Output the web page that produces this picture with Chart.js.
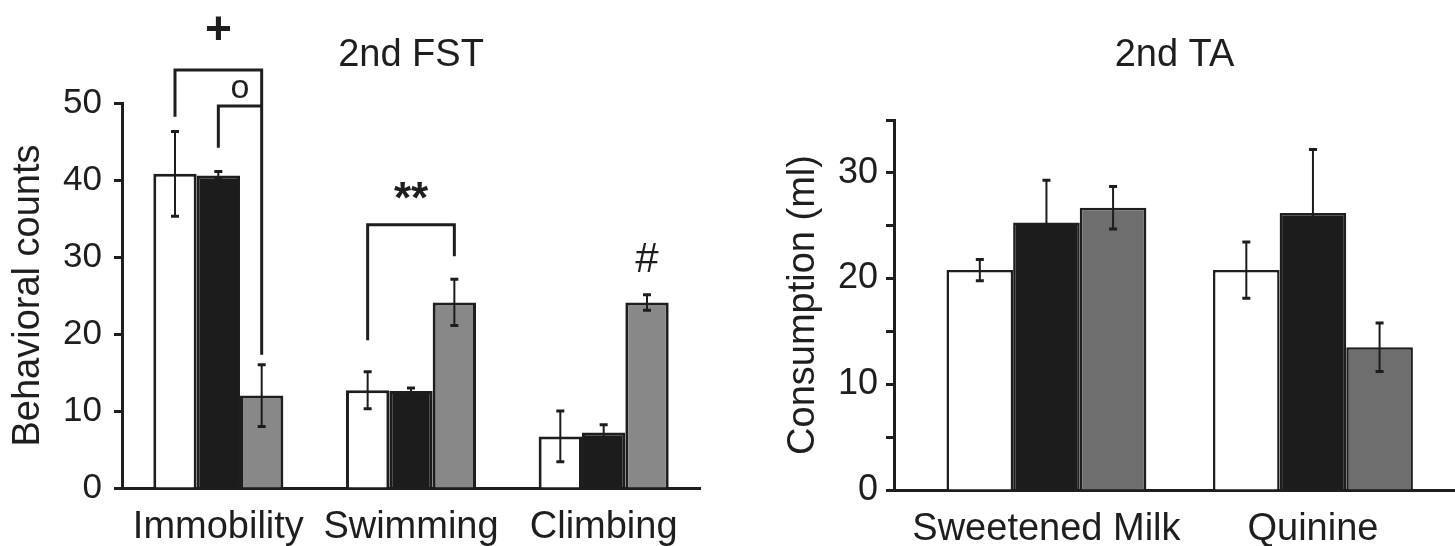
<!DOCTYPE html>
<html><head><meta charset="utf-8">
<script src="https://cdn.jsdelivr.net/npm/chart.js@4"></script>
<style>
html,body{margin:0;padding:0;background:#fff;overflow:hidden;}
#wrap{position:relative;width:1455px;height:546px;background:#fff;}
#c1{position:absolute;left:0;top:0;}
#c2{position:absolute;left:740px;top:0;}
</style></head><body>
<div id="wrap"><canvas id="c1" width="740" height="546"></canvas><canvas id="c2" width="715" height="546"></canvas></div>
<script>
// ---------- data: 2nd FST ----------
const fstCategories = ['Immobility', 'Swimming', 'Climbing'];
const fstWhite    = [40.8, 12.7, 6.7];
const fstWhiteErr = [5.5, 2.4, 3.3];
const fstBlack    = [40.6, 12.6, 7.2];
const fstBlackErr = [0.5, 0.4, 1.0];
const fstGray     = [12.0, 24.1, 24.1];
const fstGrayErr  = [4.0, 3.0, 1.0];
const fstTicks    = [0, 10, 20, 30, 40, 50];
// significance brackets: category, left/right dataset, y of top and of both ends
const fstBrackets = [
  {cat: 0, left: 0, right: 2, top: 54.3, leftEnd: 48.2, rightEnd: 17.3},
  {cat: 0, left: 1, right: 2, top: 49.6, leftEnd: 44.2, rightEnd: 49.6},
  {cat: 1, left: 0, right: 2, top: 34.2, leftEnd: 19.2, rightEnd: 30.1}
];
const fstMarks = [
  {text: '+',  cat: 0, between: [1, 1], y: 59.7},
  {text: 'o',  cat: 0, between: [1, 2], y: 51.8},
  {text: '**', cat: 1, between: [0, 2], y: 38.6},
  {text: '#',  cat: 2, between: [2, 2], y: 29.9}
];

// ---------- data: 2nd TA ----------
const taCategories = ['Sweetened Milk', 'Quinine'];
const taWhite    = [20.8, 20.8];
const taWhiteErr = [1.0, 2.65];
const taBlack    = [25.3, 26.2];
const taBlackErr = [4.0, 6.0];
const taGray     = [26.7, 13.5];
const taGrayErr  = [2.0, 2.3];
const taTicks    = [0, 5, 10, 15, 20, 25, 30, 35];

// ---------- styling ----------
const FONT = "'Liberation Sans', Arial, Helvetica, sans-serif";
const INK = '#1e1e1e';
Chart.defaults.font.family = FONT;
Chart.defaults.color = INK;

const markFonts = {'+': 'bold 46px ' + FONT, 'o': '34px ' + FONT, '**': 'bold 44px ' + FONT, '#': '42px ' + FONT};

function centerText(ctx, text, x, y, font) {
  ctx.font = font;
  ctx.textAlign = 'center';
  ctx.textBaseline = 'alphabetic';
  const m = ctx.measureText(text);
  ctx.fillText(text, x, y + (m.actualBoundingBoxAscent - m.actualBoundingBoxDescent) / 2);
}
function valOf(d) { return (d !== null && typeof d === 'object') ? d.y : d; }

function drawErrors(chart, errs) {
  const ctx = chart.ctx, ys = chart.scales.y;
  ctx.save();
  ctx.strokeStyle = '#1c1c1c';
  errs.forEach((arr, ds) => {
    const meta = chart.getDatasetMeta(ds);
    meta.data.forEach((bar, i) => {
      const v = valOf(chart.data.datasets[ds].data[i]);
      const t = ys.getPixelForValue(v + arr[i]);
      const b = ys.getPixelForValue(v - arr[i]);
      ctx.lineWidth = 2;
      ctx.beginPath(); ctx.moveTo(bar.x, t); ctx.lineTo(bar.x, b); ctx.stroke();
      ctx.lineWidth = 3;
      ctx.beginPath();
      ctx.moveTo(bar.x - 4, t); ctx.lineTo(bar.x + 4, t);
      ctx.moveTo(bar.x - 4, b); ctx.lineTo(bar.x + 4, b);
      ctx.stroke();
    });
  });
  ctx.restore();
}

function panelTitle(text) {
  return {
    id: 'panelTitle',
    afterDraw(chart) {
      const ca = chart.chartArea, ctx = chart.ctx;
      ctx.save(); ctx.fillStyle = INK;
      centerText(ctx, text, (ca.left + ca.right) / 2, 52, '38px ' + FONT);
      ctx.restore();
    }
  };
}

const fstOverlay = {
  id: 'fstOverlay',
  afterDatasetsDraw(chart) {
    drawErrors(chart, [fstWhiteErr, fstBlackErr, fstGrayErr]);
    const ctx = chart.ctx, ys = chart.scales.y;
    const bx = (ds, i) => chart.getDatasetMeta(ds).data[i].x;
    ctx.save();
    ctx.strokeStyle = INK; ctx.fillStyle = INK; ctx.lineWidth = 3; ctx.lineCap = 'butt';
    fstBrackets.forEach(br => {
      const xl = bx(br.left, br.cat), xr = bx(br.right, br.cat);
      ctx.beginPath();
      ctx.moveTo(xl, ys.getPixelForValue(br.leftEnd));
      ctx.lineTo(xl, ys.getPixelForValue(br.top));
      ctx.lineTo(xr, ys.getPixelForValue(br.top));
      ctx.lineTo(xr, ys.getPixelForValue(br.rightEnd));
      ctx.stroke();
    });
    fstMarks.forEach(mk => {
      const x = (bx(mk.between[0], mk.cat) + bx(mk.between[1], mk.cat)) / 2;
      centerText(ctx, mk.text, x, ys.getPixelForValue(mk.y), markFonts[mk.text]);
    });
    ctx.restore();
  }
};

const taOverlay = {
  id: 'taOverlay',
  afterDatasetsDraw(chart) { drawErrors(chart, [taWhiteErr, taBlackErr, taGrayErr]); }
};

function barSet(data, fill) {
  return {data, backgroundColor: fill, borderColor: INK, borderWidth: 3,
          barPercentage: 1.0, categoryPercentage: 0.675};
}

// ---------- left chart ----------
new Chart(document.getElementById('c1'), {
  type: 'bar',
  data: {
    labels: fstCategories,
    datasets: [barSet(fstWhite, '#ffffff'), barSet(fstBlack, '#1b1c1b'), barSet(fstGray, '#888888')]
  },
  options: {
    responsive: false, animation: false, events: [],
    layout: {padding: {top: 103, right: 40, left: 0, bottom: 0}},
    plugins: {legend: {display: false}, tooltip: {enabled: false}, title: {display: false}},
    scales: {
      x: {
        grid: {display: false, drawTicks: false},
        border: {display: true, color: INK, width: 3},
        ticks: {font: {size: 38}, color: INK, padding: 17, maxRotation: 0, autoSkip: false},
        afterFit: s => { s.height = 58; }
      },
      y: {
        min: 0, max: 50,
        afterBuildTicks: s => { s.ticks = fstTicks.map(v => ({value: v})); },
        ticks: {font: {size: 35}, color: INK, padding: 12},
        grid: {display: true, drawOnChartArea: false, drawTicks: true, tickLength: 8, tickWidth: 3, tickColor: INK, color: INK},
        border: {display: true, color: INK, width: 3},
        title: {display: true, text: 'Behavioral counts', font: {size: 38}, color: INK, padding: {top: 6, bottom: 0}},
        afterFit: s => { s.width = 122; }
      }
    }
  },
  plugins: [fstOverlay, panelTitle('2nd FST')]
});

// ---------- right chart ----------
function taSet(vals, fill) {
  const s = barSet(vals.map((v, i) => ({x: i, y: v})), fill);
  s.borderWidth = 2.5; s.categoryPercentage = 0.75;
  return s;
}
new Chart(document.getElementById('c2'), {
  type: 'bar',
  data: {
    datasets: [taSet(taWhite, '#ffffff'), taSet(taBlack, '#1b1c1b'), taSet(taGray, '#6d6e6d')]
  },
  options: {
    responsive: false, animation: false, events: [],
    layout: {padding: {top: 120, right: 0, left: 0, bottom: 0}},
    plugins: {legend: {display: false}, tooltip: {enabled: false}, title: {display: false}},
    scales: {
      x: {
        type: 'linear', min: -0.572, max: 1.533, offset: false,
        afterBuildTicks: s => { s.ticks = taCategories.map((_, i) => ({value: i})); },
        grid: {display: false, drawTicks: false},
        border: {display: true, color: INK, width: 3},
        ticks: {font: {size: 38}, color: INK, padding: 17, maxRotation: 0, autoSkip: false,
                callback: v => (taCategories[v] !== undefined ? taCategories[v] : '')},
        afterFit: s => { s.height = 56; }
      },
      y: {
        min: 0, max: 35,
        afterBuildTicks: s => { s.ticks = taTicks.map(v => ({value: v})); },
        ticks: {font: {size: 36}, color: INK, padding: 8, callback: v => (v % 10 === 0 ? String(v) : '')},
        grid: {display: true, drawOnChartArea: false, drawTicks: true, tickLength: 8, tickWidth: 3, tickColor: INK, color: INK},
        border: {display: true, color: INK, width: 3},
        title: {display: true, text: 'Consumption (ml)', font: {size: 38}, color: INK, padding: {top: 41, bottom: 0}},
        afterFit: s => { s.width = 154; }
      }
    }
  },
  plugins: [taOverlay, panelTitle('2nd TA')]
});
</script>
</body></html>
